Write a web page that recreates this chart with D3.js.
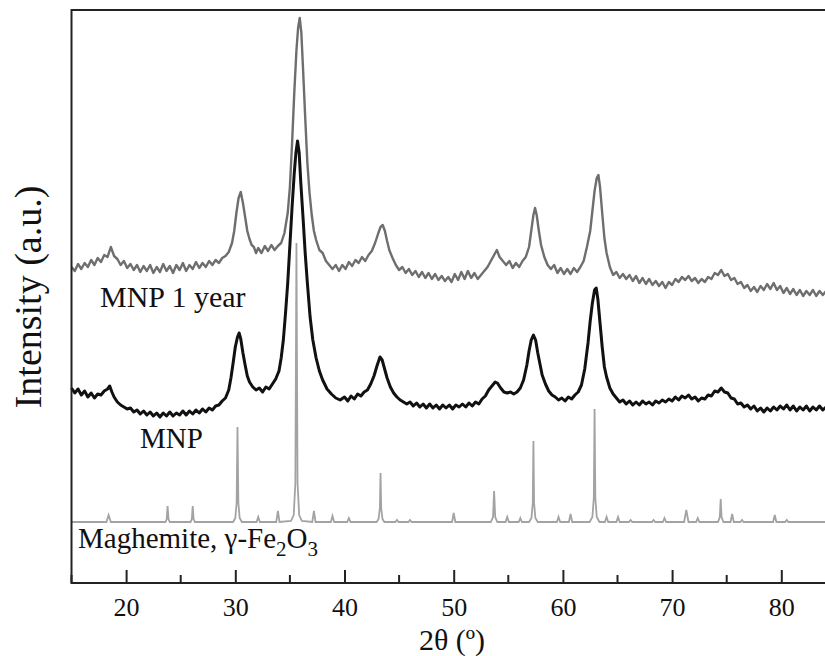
<!DOCTYPE html>
<html>
<head>
<meta charset="utf-8">
<script src="https://cdn.jsdelivr.net/npm/d3@7"></script>
<style>
  body { margin: 0; background: #fff; }
  text { font-family: "Liberation Serif", "Times New Roman", serif; fill: #111; }
</style>
</head>
<body>
<script>
// 2theta tick labels
var tickValues = [20, 30, 40, 50, 60, 70, 80];
var minorTicks = [15, 25, 35, 45, 55, 65, 75, 85];

// MNP after 1 year (grey trace), [2theta, intensity a.u.]
var mnpYear = [
  [15.0,316],[15.3,312],[15.6,319],[15.9,314],[16.2,320],[16.5,316],[16.8,323],[17.1,318],[17.4,325],[17.7,321],
  [18.0,328],[18.3,326],[18.6,336],[18.9,327],[19.2,324],[19.5,318],[19.8,322],[20.1,315],[20.4,319],[20.7,313],
  [21.0,318],[21.3,311],[21.6,317],[21.9,312],[22.2,318],[22.5,310],[22.8,316],[23.1,311],[23.4,319],[23.7,312],
  [24.0,317],[24.3,310],[24.6,318],[24.9,313],[25.2,320],[25.5,312],[25.8,318],[26.1,314],[26.4,321],[26.7,315],
  [27.0,320],[27.3,316],[27.6,322],[27.9,318],[28.2,323],[28.5,320],[28.8,325],[29.1,327],[29.4,331],[29.7,340],
  [29.9,352],[30.1,370],[30.3,385],[30.5,391],[30.7,380],[30.9,366],[31.1,352],[31.3,344],[31.5,338],[31.7,336],
  [31.9,330],[32.1,335],[32.4,330],[32.7,337],[33.0,332],[33.3,338],[33.6,333],[33.9,337],[34.2,340],[34.5,350],
  [34.8,370],[35.0,396],[35.2,440],[35.4,490],[35.6,533],[35.75,555],[35.9,565],[36.05,550],[36.2,515],[36.4,466],
  [36.6,420],[36.8,390],[37.0,368],[37.2,352],[37.4,343],[37.7,333],[38.0,330],[38.3,322],[38.6,318],[38.9,314],
  [39.2,318],[39.5,312],[39.8,318],[40.1,314],[40.4,321],[40.7,317],[41.0,323],[41.3,320],[41.6,326],[41.9,322],
  [42.2,328],[42.5,332],[42.8,340],[43.1,350],[43.3,356],[43.5,358],[43.7,352],[43.9,342],[44.1,333],[44.4,325],
  [44.7,318],[45.0,313],[45.3,316],[45.6,310],[45.9,314],[46.2,308],[46.5,312],[46.8,306],[47.1,311],[47.4,305],
  [47.7,310],[48.0,304],[48.3,309],[48.6,303],[48.9,307],[49.2,302],[49.5,306],[49.8,301],[50.1,309],[50.4,303],
  [50.7,311],[51.0,304],[51.3,312],[51.6,305],[51.9,310],[52.2,304],[52.5,308],[52.8,312],[53.1,316],[53.4,322],
  [53.7,328],[53.95,333],[54.2,326],[54.5,322],[54.8,318],[55.1,322],[55.4,315],[55.7,320],[56.0,316],[56.3,322],
  [56.6,326],[56.9,336],[57.1,352],[57.3,368],[57.45,375],[57.6,368],[57.8,352],[58.0,338],[58.3,326],[58.6,318],
  [58.9,314],[59.2,318],[59.5,310],[59.8,315],[60.1,309],[60.4,314],[60.7,309],[61.0,315],[61.3,311],[61.6,316],
  [61.9,322],[62.2,336],[62.5,352],[62.7,372],[62.9,392],[63.1,405],[63.25,408],[63.4,396],[63.6,370],[63.8,345],
  [64.0,330],[64.3,316],[64.6,308],[64.9,311],[65.2,305],[65.5,309],[65.8,304],[66.1,308],[66.4,302],[66.7,307],
  [67.0,300],[67.3,305],[67.6,299],[67.9,304],[68.2,298],[68.5,302],[68.8,297],[69.1,301],[69.4,295],[69.7,301],
  [70.0,298],[70.3,304],[70.6,301],[70.9,306],[71.2,303],[71.5,307],[71.8,302],[72.1,305],[72.4,300],[72.7,304],
  [73.0,301],[73.3,306],[73.6,304],[73.9,310],[74.2,308],[74.5,313],[74.8,307],[75.1,309],[75.4,303],[75.7,305],
  [76.0,299],[76.3,301],[76.6,295],[76.9,298],[77.2,292],[77.5,296],[77.8,291],[78.1,297],[78.4,293],[78.7,299],
  [79.0,294],[79.3,300],[79.6,293],[79.9,297],[80.2,290],[80.5,295],[80.8,289],[81.1,294],[81.4,288],[81.7,293],
  [82.0,287],[82.3,292],[82.6,288],[82.9,293],[83.2,287],[83.5,292],[83.8,288],[84.1,292]
];

// fresh MNP (black trace)
var mnpFresh = [
  [15.0,195],[15.3,190],[15.6,194],[15.9,188],[16.2,192],[16.5,186],[16.8,190],[17.1,185],[17.4,189],[17.7,188],
  [18.0,192],[18.3,194],[18.5,197],[18.7,191],[18.9,186],[19.2,181],[19.5,178],[19.8,176],[20.1,174],[20.4,175],
  [20.7,171],[21.0,173],[21.3,169],[21.6,172],[21.9,168],[22.2,171],[22.5,167],[22.8,170],[23.1,166],[23.4,170],
  [23.7,167],[24.0,171],[24.3,167],[24.6,170],[24.9,168],[25.2,172],[25.5,168],[25.8,172],[26.1,169],[26.4,173],
  [26.7,170],[27.0,174],[27.3,171],[27.6,175],[27.9,173],[28.2,177],[28.5,178],[28.8,182],[29.1,185],[29.4,193],
  [29.6,205],[29.8,220],[30.0,236],[30.2,246],[30.35,250],[30.5,244],[30.7,230],[30.9,218],[31.1,207],[31.3,201],
  [31.6,196],[31.9,193],[32.2,195],[32.5,191],[32.8,196],[33.1,194],[33.4,199],[33.7,204],[34.0,212],[34.2,225],
  [34.4,243],[34.6,270],[34.8,300],[35.0,338],[35.2,376],[35.4,410],[35.55,430],[35.7,442],[35.85,430],[36.0,400],
  [36.2,366],[36.4,330],[36.6,300],[36.85,266],[37.1,243],[37.4,225],[37.7,212],[38.0,203],[38.4,194],[38.8,189],
  [39.2,185],[39.6,183],[40.0,186],[40.3,182],[40.6,187],[40.9,184],[41.2,189],[41.5,187],[41.8,191],[42.1,193],
  [42.4,199],[42.7,207],[43.0,218],[43.25,226],[43.45,223],[43.7,213],[43.9,205],[44.2,196],[44.5,190],[44.8,186],
  [45.1,183],[45.4,181],[45.7,179],[46.0,181],[46.3,177],[46.6,180],[46.9,176],[47.2,179],[47.5,175],[47.8,179],
  [48.1,175],[48.4,178],[48.7,174],[49.0,178],[49.3,175],[49.6,178],[49.9,174],[50.2,178],[50.5,176],[50.8,179],
  [51.1,176],[51.4,180],[51.7,177],[52.0,181],[52.3,179],[52.6,184],[52.9,187],[53.2,193],[53.5,197],[53.8,201],
  [54.0,200],[54.3,195],[54.6,191],[54.9,190],[55.2,191],[55.5,189],[55.8,191],[56.1,195],[56.4,203],[56.7,218],
  [56.9,232],[57.1,243],[57.3,248],[57.5,243],[57.7,230],[57.9,219],[58.1,208],[58.4,199],[58.7,192],[59.0,188],
  [59.3,186],[59.6,183],[59.9,185],[60.2,182],[60.5,186],[60.8,184],[61.1,188],[61.4,191],[61.7,198],[62.0,214],
  [62.3,240],[62.5,262],[62.7,280],[62.9,293],[63.05,295],[63.2,284],[63.4,260],[63.6,236],[63.8,216],[64.0,206],
  [64.3,195],[64.6,189],[64.9,185],[65.2,181],[65.5,183],[65.8,179],[66.1,182],[66.4,178],[66.7,181],[67.0,178],
  [67.3,182],[67.6,179],[67.9,181],[68.2,178],[68.5,182],[68.8,180],[69.1,183],[69.4,181],[69.7,184],[70.0,182],
  [70.3,186],[70.6,183],[70.9,187],[71.2,185],[71.5,188],[71.8,184],[72.1,186],[72.4,182],[72.7,185],[73.0,184],
  [73.3,188],[73.6,187],[73.9,192],[74.2,191],[74.5,195],[74.8,191],[75.1,190],[75.4,185],[75.7,184],[76.0,179],
  [76.3,180],[76.6,176],[76.9,178],[77.2,174],[77.5,177],[77.8,172],[78.1,175],[78.4,171],[78.7,175],[79.0,172],
  [79.3,176],[79.6,173],[79.9,177],[80.2,174],[80.5,178],[80.8,173],[81.1,177],[81.4,172],[81.7,176],[82.0,173],
  [82.3,177],[82.6,172],[82.9,176],[83.2,173],[83.5,177],[83.8,173],[84.1,176]
];

// maghemite reference pattern
var maghemite = [
  [15,61],
  [18.2,61],[18.4,68],[18.6,61],
  [23.6,61],[23.72,64],[23.8,77],[23.88,64],[24.0,61],
  [25.9,61],[26.02,64],[26.1,77],[26.18,64],[26.3,61],
  [29.8,61],[30.0,65],[30.12,80],[30.2,156],[30.28,80],[30.4,65],[30.6,61],
  [31.95,61],[32.1,66],[32.25,61],
  [33.75,61],[33.9,72],[34.05,61],
  [35.1,62],[35.35,68],[35.5,100],[35.6,340],[35.7,100],[35.85,68],[36.1,62],
  [37.05,61],[37.2,72],[37.35,61],
  [38.75,61],[38.9,67],[39.05,61],
  [40.25,61],[40.4,65],[40.55,61],
  [42.95,61],[43.12,64],[43.24,75],[43.3,110],[43.36,75],[43.48,64],[43.65,61],
  [44.65,61],[44.8,63],[44.95,61],
  [45.85,61],[46.0,63],[46.15,61],
  [49.85,61],[50.0,70],[50.15,61],
  [53.4,61],[53.6,66],[53.7,92],[53.8,66],[54.0,61],
  [54.75,61],[54.9,66],[55.05,61],
  [55.95,61],[56.1,65],[56.25,61],
  [56.9,61],[57.12,65],[57.24,80],[57.3,142],[57.36,80],[57.48,65],[57.7,61],
  [59.45,61],[59.6,66],[59.75,61],
  [60.55,61],[60.7,69],[60.85,61],
  [62.45,61],[62.7,66],[62.83,85],[62.9,174],[62.97,85],[63.1,66],[63.35,61],
  [63.85,61],[64.0,66],[64.15,61],
  [64.9,61],[65.05,66],[65.2,61],
  [66.05,61],[66.2,63],[66.35,61],
  [68.15,61],[68.3,63],[68.45,61],
  [69.15,61],[69.3,65],[69.45,61],
  [71.1,61],[71.3,73],[71.5,61],
  [72.2,61],[72.35,65],[72.5,61],
  [74.2,61],[74.37,66],[74.45,84],[74.53,66],[74.7,61],
  [75.35,61],[75.5,69],[75.65,61],
  [76.25,61],[76.4,63],[76.55,61],
  [79.25,61],[79.4,68],[79.55,61],
  [80.35,61],[80.5,63],[80.65,61],
  [85,61]
];

var width = 825, height = 656;
var plotLeft = 71.5, plotTop = 10, plotBottom = 583;

var svg = d3.select("body").append("svg")
    .attr("width", width)
    .attr("height", height);

var x = d3.scaleLinear().domain([15, 85]).range([plotLeft, plotLeft + 70 * 10.92]);
var y = d3.scaleLinear().domain([0, 573]).range([plotBottom, plotTop]);

var line = d3.line()
    .x(function (d) { return x(d[0]); })
    .y(function (d) { return y(d[1]); });

svg.append("path").datum(maghemite)
    .attr("d", line)
    .attr("fill", "none")
    .attr("stroke", "#a3a3a3")
    .attr("stroke-width", 1.8);

svg.append("path").datum(mnpFresh)
    .attr("d", line)
    .attr("fill", "none")
    .attr("stroke", "#111")
    .attr("stroke-width", 3)
    .attr("stroke-linejoin", "round");

svg.append("path").datum(mnpYear)
    .attr("d", line)
    .attr("fill", "none")
    .attr("stroke", "#6e6e6e")
    .attr("stroke-width", 2.4)
    .attr("stroke-linejoin", "round");

// frame
svg.append("rect")
    .attr("x", x(15)).attr("y", plotTop)
    .attr("width", x(85) - x(15)).attr("height", plotBottom - plotTop)
    .attr("fill", "none")
    .attr("stroke", "#222")
    .attr("stroke-width", 2);

// ticks point inward
var xAxis = d3.axisBottom(x).tickValues(tickValues).tickSize(-13).tickPadding(15);
var gx = svg.append("g").attr("transform", "translate(0," + plotBottom + ")").call(xAxis);
gx.select(".domain").remove();
gx.selectAll("line").attr("stroke", "#222").attr("stroke-width", 2);
gx.selectAll("text")
    .style("font-size", "26px")
    .style("font-family", "Liberation Serif")
    .attr("fill", "#111");

svg.append("g").selectAll("line")
    .data(minorTicks)
    .enter().append("line")
    .attr("x1", function (d) { return x(d); })
    .attr("x2", function (d) { return x(d); })
    .attr("y1", plotBottom)
    .attr("y2", plotBottom - 8)
    .attr("stroke", "#222")
    .attr("stroke-width", 2);

// axis titles
svg.append("text")
    .attr("x", 452).attr("y", 650)
    .attr("text-anchor", "middle")
    .style("font-size", "30px")
    .text("2θ (º)");

svg.append("text")
    .attr("transform", "translate(41,297) rotate(-90)")
    .attr("text-anchor", "middle")
    .style("font-size", "38px")
    .text("Intensity (a.u.)");

// trace labels
svg.append("text").attr("x", 100).attr("y", 307).style("font-size", "30px").text("MNP 1 year");
svg.append("text").attr("x", 140).attr("y", 448).style("font-size", "29px").text("MNP");

var mag = svg.append("text").attr("x", 78).attr("y", 548).style("font-size", "29px");
mag.append("tspan").text("Maghemite, γ-Fe");
mag.append("tspan").attr("dy", 8).style("font-size", "21px").text("2");
mag.append("tspan").attr("dy", -8).text("O");
mag.append("tspan").attr("dy", 8).style("font-size", "21px").text("3");
</script>
</body>
</html>
